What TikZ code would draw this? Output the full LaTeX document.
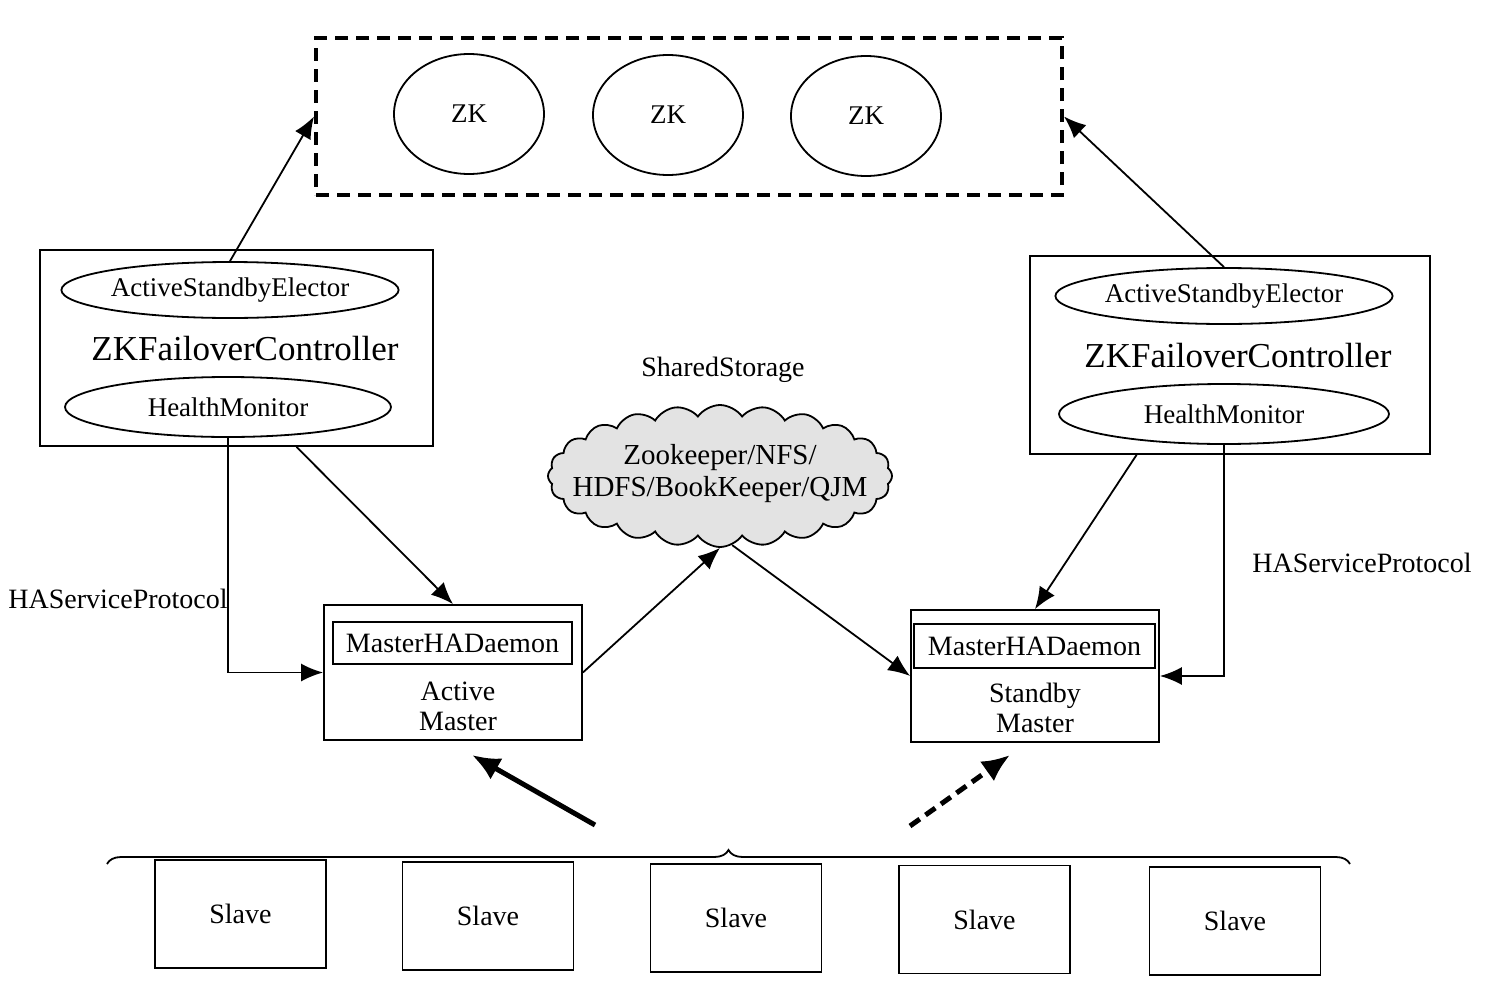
\documentclass[tikz,border=0pt]{standalone}
\usepackage{fontspec}
\setmainfont{Liberation Serif}
\usetikzlibrary{arrows.meta,shapes.geometric,shapes.symbols,decorations.pathreplacing,calc}
\newcommand{\fs}[1]{\fontsize{#1}{16}\selectfont}
\begin{document}
\begin{tikzpicture}[x=0.5pt,y=-0.5pt,
  line width=0.9pt,
  box/.style={draw,rectangle,inner sep=0pt},
  ell/.style={draw,ellipse,inner sep=0pt},
  arr/.style={-{Latex[length=11pt,width=9pt]}},
  bigarr/.style={line width=2.5pt,-{Latex[length=14pt,width=12pt]}},
  lbl/.style={inner sep=0pt,font=\fs{14}}]
\useasboundingbox (0,0) rectangle (1496,1007);
% ZooKeeper ensemble
\node[box,line width=2pt,dash pattern=on 6.5pt off 4pt,minimum width=373pt,minimum height=78.5pt] (zkbox) at (689,116.5) {};
\node[ell,minimum width=75pt,minimum height=60pt,font=\fs{13.5}] (zk1) at (469,114) {ZK};
\node[ell,minimum width=75pt,minimum height=60pt,font=\fs{13.5}] (zk2) at (668,115) {ZK};
\node[ell,minimum width=75pt,minimum height=60pt,font=\fs{13.5}] (zk3) at (866,116) {ZK};
% left ZKFC
\node[box,minimum width=196.5pt,minimum height=98pt] (lzkfc) at (236.5,348) {};
\node[ell,minimum width=163pt,minimum height=28pt,font=\fs{13.5}] (lase) at (230,290) {ActiveStandbyElector};
\node[lbl,font=\fs{17.5}] (lzt) at (245,349) {ZKFailoverController};
\node[ell,minimum width=163pt,minimum height=30pt,font=\fs{13.5}] (lhm) at (228,407) {HealthMonitor};
% right ZKFC
\node[box,minimum width=200pt,minimum height=99pt] (rzkfc) at (1230,355) {};
\node[ell,minimum width=165pt,minimum height=28pt,font=\fs{13.5}] (rase) at (1224,296) {ActiveStandbyElector};
\node[lbl,font=\fs{17.5}] (rzt) at (1238,356) {ZKFailoverController};
\node[ell,minimum width=165pt,minimum height=30pt,font=\fs{13.5}] (rhm) at (1224,414) {HealthMonitor};
% shared storage
\node[lbl] (sst) at (723,370) {SharedStorage};
\node[draw,cloud,cloud puffs=24,cloud puff arc=110,minimum width=172pt,minimum height=71pt,inner sep=0pt,fill=gray!22] (cloud) at (720,476) {};
\node[lbl,align=center,font=\fs{14.5}] (ctext) at (720,474) {Zookeeper/NFS/\\HDFS/BookKeeper/QJM};
% masters
\node[box,minimum width=129pt,minimum height=67.5pt] (active) at (453,672.5) {};
\node[box,minimum width=119.5pt,minimum height=21pt,lbl] (ahad) at (452.5,643) {MasterHADaemon};
\node[lbl,align=center,font=\fs{14}] (atxt) at (458,706) {Active\\[-1pt]Master};
\node[box,minimum width=124pt,minimum height=66pt] (standby) at (1035,676) {};
\node[box,minimum width=120.5pt,minimum height=22pt,lbl] (shad) at (1034.5,646) {MasterHADaemon};
\node[lbl,align=center,font=\fs{14}] (stxt) at (1035,708) {Standby\\[-1pt]Master};
% protocol labels
\node[lbl] (lproto) at (118,599) {HAServiceProtocol};
\node[lbl] (rproto) at (1362,563) {HAServiceProtocol};
% connectors
\draw[arr] (lase.north) -- (zkbox.west);
\draw[arr] (rase.north) -- (zkbox.east);
\draw[arr] (lhm.south) |- (active.west);
\coordinate (ld) at ($(lzkfc.south west)!0.652!(lzkfc.south east)$);
\draw[arr] (ld) -- (active.north);
\draw[arr] (active.east) -- (cloud.south);
\draw[arr] (cloud.-80) -- (standby.west);
\coordinate (rd) at ($(rzkfc.south west)!0.2675!(rzkfc.south east)$);
\draw[arr] (rd) -- (standby.north);
\draw[arr] (rhm.south) |- (standby.east);
% slaves
\foreach \n/\x/\y in {1/240.5/914,2/488/916,3/736/918,4/984.5/919.5,5/1235/921}
  \node[box,minimum width=85.5pt,minimum height=54pt,font=\fs{14}] (slave\n) at (\x,\y) {Slave};
\draw[decorate,decoration={brace,amplitude=7pt}] (107,864) -- (1350,864);
\coordinate (a1s) at (595,825);
\coordinate (a1e) at (472,755);
\coordinate (a2s) at (910,826);
\coordinate (a2e) at (1010,755);
\draw[bigarr] (a1s) -- (a1e);
\draw[bigarr,dash pattern=on 6pt off 3.5pt] (a2s) -- (a2e);
\end{tikzpicture}
\end{document}
